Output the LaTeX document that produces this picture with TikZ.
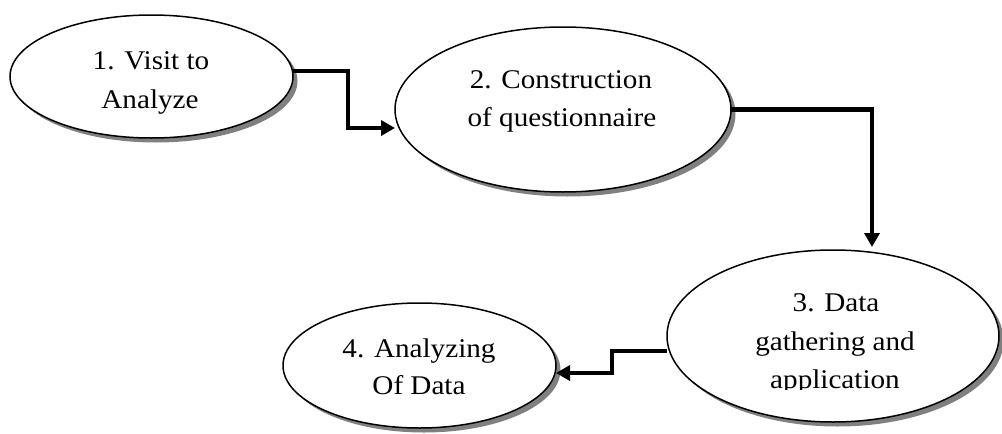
\documentclass[tikz,border=0pt]{standalone}
\usepackage{fontspec}
\setmainfont{Liberation Serif}[FakeStretch=1.08]
\usetikzlibrary{arrows.meta,shapes.geometric,shadows}
\begin{document}
\begin{tikzpicture}[x=1pt,y=-1pt,
  oval/.style={ellipse, draw=black, line width=1.5pt, fill=white, inner sep=0pt, outer sep=0pt,
    drop shadow={shadow xshift=4.5pt, shadow yshift=-4.5pt, fill=black!50, opacity=1}},
  conn/.style={line width=4.5pt, -{Triangle[length=14pt,width=15pt]}},
  lbl/.style={anchor=base, inner sep=0pt, font=\fontsize{27}{38}\selectfont}]
\useasboundingbox (0,0) rectangle (1002,434);
\node[oval, minimum width=283pt, minimum height=123pt] (e1) at (151.5,76.5) {};
\node[oval, minimum width=336pt, minimum height=165pt] (e2) at (563,109.5) {};
\node[oval, minimum width=332pt, minimum height=172pt] (e3) at (833,336) {};
\node[oval, minimum width=273pt, minimum height=125pt] (e4) at (419.5,365.5) {};
\node[lbl] (t1a) at (151,69) {1. Visit to};
\node[lbl] (t1b) at (150,108) {Analyze};
\node[lbl] (t2a) at (561,88) {2. Construction};
\node[lbl] (t2b) at (562,126) {of questionnaire};
\node[lbl] (t3a) at (836,311) {3. Data};
\node[lbl] (t3b) at (835,350) {gathering and};
\begin{scope}
  \clip (680,360) rectangle (990,389);
  \node[lbl] (t3c) at (835,388) {application};
\end{scope}
\node[lbl] (t4a) at (419,357) {4. Analyzing};
\node[lbl] (t4b) at (419,394) {Of Data};
\draw[conn] ([yshift=5.5pt]e1.east) -| (348,128) -- (e2.west |- 348,128);
\draw[conn] (e2.east) -| ([yshift=3pt]e3.north -| 872,0);
\draw[conn] ([yshift=-15pt]e3.west) -- (612,351) |- (e4.east |- 0,373);
\end{tikzpicture}
\end{document}
